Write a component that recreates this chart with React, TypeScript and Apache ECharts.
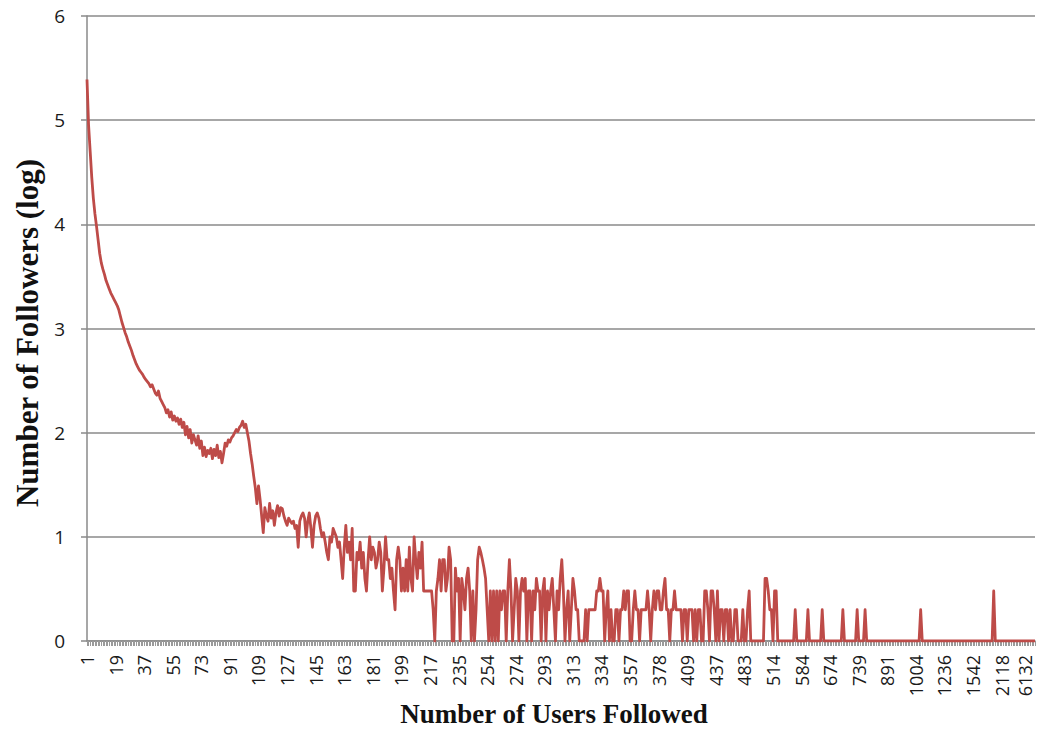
import React, { useEffect, useRef } from "react";
import * as echarts from "echarts";

// Tick labels shown on the category axis (one every 18 categories)
const tickLabels = ["1","19","37","55","73","91","109","127","145","163","181","199","217","235","254","274","293","313","334","357","378","409","437","483","514","584","674","739","891","1004","1236","1542","2118","6132"];
// Hidden categories after the last labelled one
const tailCategories = ["7150", "8390", "10720"];
const LABEL_STEP = 18;

// log10(number of followers) per category
const logFollowersA = [
  5.39,4.95,4.70,4.45,4.25,4.10,3.98,3.85,3.72,3.63,3.57,3.52,3.46,3.42,3.38,3.34,3.31,3.28,
  3.25,3.22,3.18,3.12,3.06,3.01,2.96,2.92,2.87,2.83,2.79,2.74,2.70,2.66,2.63,2.60,2.58,2.56,
  2.53,2.51,2.49,2.47,2.44,2.46,2.42,2.38,2.36,2.40,2.33,2.30,2.27,2.24,2.19,2.22,2.15,2.20,
  2.12,2.16,2.11,2.14,2.08,2.13,2.05,2.10,1.98,2.06,1.95,2.03,1.90,1.98,1.93,1.88,1.97,1.85,
  1.92,1.78,1.86,1.77,1.83,1.80,1.85,1.75,1.84,1.78,1.88,1.76,1.82,1.71,1.80,1.90,1.87,1.93,
  1.91,1.95,1.97,2.00,2.03,2.01,2.05,2.07,2.11,2.05,2.08,2.00,1.92,1.80,1.70,1.58,1.47,1.32,
  1.49,1.36,1.20,1.04,1.28,1.20,1.15,1.32,1.18,1.25,1.11,1.23,1.30,1.20,1.28,1.27,1.20,1.15,
  1.11,1.18,1.15,1.13,1.15,1.08,1.11,0.90,1.15,1.20,1.23,1.18,1.00,1.15,1.23,1.08,0.90,1.11,
];
const logFollowersB = [
  1.20,1.23,1.18,1.08,1.00,1.04,0.95,0.85,0.78,1.00,0.95,1.08,1.04,1.00,0.90,0.95,0.78,0.60,
  0.90,1.11,0.85,0.95,0.78,1.08,0.48,0.48,0.85,0.78,0.95,0.70,0.85,0.60,0.48,0.78,1.00,0.78,
  0.90,0.85,0.70,0.78,0.95,0.85,0.48,0.70,1.00,0.78,0.78,0.60,0.70,0.48,0.30,0.78,0.90,0.78,
  0.48,0.70,0.48,0.78,0.48,0.90,0.60,0.48,1.00,0.78,0.60,0.85,0.70,0.95,0.48,0.48,0.48,0.48,
  0.48,0.48,0.30,0,0.48,0.60,0.78,0.48,0.78,0.78,0.48,0.60,0.90,0.78,0,0,0.70,0.48,
  0.60,0,0.60,0.48,0.30,0.60,0.70,0.48,0,0.48,0,0.30,0.78,0.90,0.85,0.78,0.70,0.60,
  0.30,0,0.48,0,0.48,0,0.48,0,0.48,0.30,0.48,0.48,0,0.48,0.78,0.48,0,0.30,
  0.60,0.48,0,0.48,0.60,0.48,0.60,0,0.48,0.48,0,0.48,0.30,0.60,0.48,0.48,0,0.48,
  0.60,0,0.48,0.30,0.48,0.60,0.30,0,0.48,0.30,0.60,0.78,0.48,0,0.30,0.48,0,0.30,
  0.60,0.48,0.30,0.30,0,0,0,0,0.30,0,0.30,0.30,0.30,0.30,0.30,0.48,0.48,0.60,
];
const logFollowersC = [
  0.48,0.48,0,0.30,0.48,0,0.30,0,0,0.30,0.30,0,0.30,0.30,0.48,0.30,0.48,0.48,
  0,0,0.30,0.48,0.30,0.30,0,0.30,0.30,0.30,0.30,0.48,0.30,0,0.30,0.48,0.30,0.48,
  0.48,0.30,0.30,0.48,0.60,0.30,0.30,0,0.30,0.30,0.48,0.30,0.30,0.30,0.30,0,0.30,0.30,
  0,0.30,0.30,0.30,0,0.30,0,0.30,0.30,0,0,0.48,0.48,0.30,0,0.48,0.48,0.30,
  0,0.48,0,0.30,0.30,0,0.30,0.30,0,0.30,0,0,0.30,0.30,0,0,0,0.30,
  0,0,0.30,0.48,0,0,0,0,0,0,0,0,0,0.60,0.60,0.48,0.30,0.30,
  0,0.48,0.48,0,0,0,0,0,0,0,0,0,0,0,0.30,0,0,0,
  0,0,0,0,0.30,0,0,0,0,0,0,0,0,0.30,0,0,0,0,
  0,0,0,0,0,0,0,0,0.30,0,0,0,0,0,0,0,0,0.30,
  0,0,0,0,0.30,0,0,0,0,0,0,0,0,0,0,0,0,0,
];
const logFollowersD = [
  0,0,0,0,0,0,0,0,0,0,0,0,0,0,0,0,0,0,
  0,0,0,0.30,0,0,0,0,0,0,0,0,0,0,0,0,0,0,
  0,0,0,0,0,0,0,0,0,0,0,0,0,0,0,0,0,0,
  0,0,0,0,0,0,0,0,0,0,0,0,0,0.48,0,0,0,0,
  0,0,0,0,0,0,0,0,0,0,0,0,0,0,0,0,0,0,
  0,0,0,0,
];

const xTitle = "Number of Users Followed";
const yTitle = "Number of Followers (log)";

function buildCategories(): string[] {
  const out: string[] = [];
  for (let k = 0; k < tickLabels.length - 1; k++) {
    const a = Number(tickLabels[k]);
    const b = Number(tickLabels[k + 1]);
    for (let j = 0; j < LABEL_STEP; j++) {
      out.push(j === 0 ? tickLabels[k] : String(Math.round(a + ((b - a) * j) / LABEL_STEP)));
    }
  }
  out.push(tickLabels[tickLabels.length - 1]);
  return out.concat(tailCategories);
}

export default function App() {
  const ref = useRef<HTMLDivElement>(null);
  useEffect(() => {
    if (!ref.current) return;
    const chart = echarts.init(ref.current, undefined, { renderer: "svg" });
    const categories = buildCategories();
    const values = [...logFollowersA, ...logFollowersB, ...logFollowersC, ...logFollowersD];
    const lastLabelIndex = (tickLabels.length - 1) * LABEL_STEP;
    const grey = "#8a8a8a";
    const labelFont = { fontFamily: "Open Sans", fontSize: 18, color: "#1a1a1a" };
    chart.setOption({
      animation: false,
      backgroundColor: "#ffffff",
      grid: {
        left: 87,
        right: 3,
        top: 16,
        bottom: 88,
        containLabel: false,
        outerBoundsMode: "none",
      },
      xAxis: {
        type: "category",
        data: categories,
        boundaryGap: false,
        axisLine: { lineStyle: { color: grey, width: 1.5 } },
        axisTick: { show: true, interval: 0, length: 5, lineStyle: { color: "#9a9a9a", width: 1 } },
        axisLabel: {
          interval: LABEL_STEP - 1,
          rotate: 90,
          ...labelFont,
          lineHeight: 16,
          margin: 14,
          formatter: (value: string, index: number) =>
            index === lastLabelIndex ? `{edge|${value}}` : value,
          rich: {
            edge: { ...labelFont, lineHeight: 16, padding: [0, 0, 10, 0] },
          },
        },
        splitLine: { show: false },
      },
      yAxis: {
        type: "value",
        min: 0,
        max: 6,
        interval: 1,
        axisLine: { show: true, lineStyle: { color: grey, width: 1.5 } },
        axisTick: { show: true, length: 6, lineStyle: { color: grey, width: 1.5 } },
        axisLabel: { fontFamily: "Open Sans", fontSize: 19, color: "#1a1a1a", margin: 22 },
        splitLine: { lineStyle: { color: grey, width: 1.5 } },
      },
      series: [
        {
          type: "line",
          data: values,
          symbol: "none",
          showSymbol: false,
          lineStyle: { color: "#be4b48", width: 2.8, join: "round" },
          itemStyle: { color: "#be4b48" },
        },
      ],
      graphic: [
        {
          type: "text",
          x: 554,
          y: 714,
          style: {
            text: xTitle,
            font: 'bold 27px "Liberation Serif"',
            fill: "#111",
            align: "center",
            verticalAlign: "middle",
          },
        },
        {
          type: "text",
          x: 27,
          y: 333,
          rotation: Math.PI / 2,
          style: {
            text: yTitle,
            font: 'bold 31px "Liberation Serif"',
            fill: "#111",
            align: "center",
            verticalAlign: "middle",
          },
        },
      ],
    });
    return () => chart.dispose();
  }, []);
  return (
    <div
      ref={ref}
      style={{ position: "fixed", left: 0, top: 0, width: 1038, height: 729, background: "#fff" }}
    />
  );
}
